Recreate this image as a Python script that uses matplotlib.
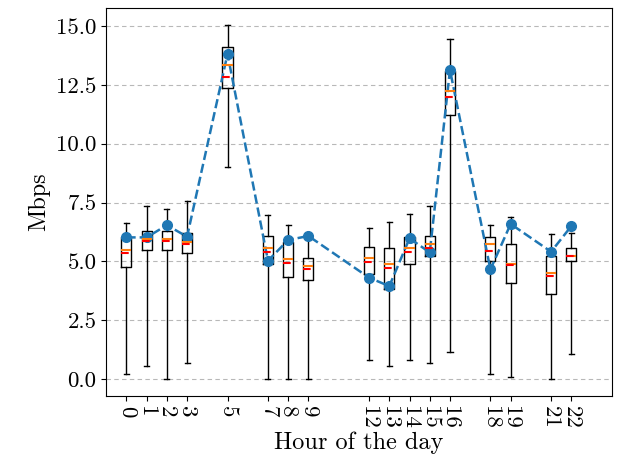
import matplotlib
matplotlib.use('Agg')
import matplotlib.pyplot as plt

plt.rcParams['font.family'] = 'serif'
plt.rcParams['font.serif'] = ['cmr10']
plt.rcParams['mathtext.fontset'] = 'cm'
plt.rcParams['axes.formatter.use_mathtext'] = True

hours = [0, 1, 2, 3, 5, 7, 8, 9, 12, 13, 14, 15, 16, 18, 19, 21, 22]
whis_lo = [0.23, 0.58, 0.0, 0.69, 9.0, 0.0, 0.0, 0.0, 0.81, 0.58, 0.81, 0.69, 1.16, 0.24, 0.11, 0.0, 1.05]
q1 = [4.77, 5.50, 5.50, 5.37, 12.38, 4.89, 4.32, 4.19, 4.45, 3.84, 4.89, 5.24, 11.22, 5.0, 4.09, 3.61, 5.0]
medians = [5.48, 5.94, 5.96, 5.84, 13.32, 5.58, 5.11, 4.79, 5.13, 4.91, 5.59, 5.72, 12.24, 5.72, 4.87, 4.49, 5.25]
means = [5.37, 5.88, 5.88, 5.74, 12.85, 5.38, 4.94, 4.67, 4.97, 4.72, 5.38, 5.58, 11.98, 5.44, 4.84, 4.39, 5.22]
q3 = [6.05, 6.30, 6.29, 6.19, 14.12, 6.08, 5.82, 5.13, 5.62, 5.59, 6.05, 6.08, 13.09, 6.05, 5.72, 5.25, 5.58]
whis_hi = [6.64, 7.35, 7.22, 7.56, 15.04, 6.98, 6.53, 6.05, 6.42, 6.66, 7.0, 7.37, 14.45, 6.53, 6.9, 6.18, 6.19]
current = [6.02, 6.02, 6.54, 6.05, 13.81, 5.03, 5.91, 6.08, 4.31, 3.95, 5.98, 5.38, 13.13, 4.66, 6.59, 5.41, 6.50]

stats = []
for i in range(len(hours)):
    stats.append(dict(whislo=whis_lo[i], q1=q1[i], med=medians[i], mean=means[i],
                      q3=q3[i], whishi=whis_hi[i], fliers=[]))

fig = plt.figure(figsize=(6.32, 4.59), dpi=100)
ax = fig.add_axes([0.168, 0.137, 0.8, 0.846])

ax.bxp(stats, positions=hours, widths=0.5, showmeans=True, meanline=True,
       meanprops=dict(color='red', linestyle='--', linewidth=1.5),
       medianprops=dict(color='C1', linewidth=1.5))
ax.plot(hours, current, 'o--', color='C0', markersize=7, linewidth=1.8)

ax.yaxis.grid(True, linestyle=(0, (4, 3)), color='#b8b8b8')
ax.set_axisbelow(True)
ax.set_xlim(-1, 24)
ax.set_ylim(-0.72, 15.77)
ax.set_yticks([0, 2.5, 5, 7.5, 10, 12.5, 15])
ax.set_yticklabels(['0.0', '2.5', '5.0', '7.5', '10.0', '12.5', '15.0'])
ax.set_xticks(hours)
ax.set_xticklabels([str(h) for h in hours], rotation=270)
ax.tick_params(labelsize=16.5)
ax.set_xlabel('Hour of the day', fontsize=17.5, labelpad=2)
ax.set_ylabel('Mbps', fontsize=17.5)

fig.savefig('out.png', dpi=100)
